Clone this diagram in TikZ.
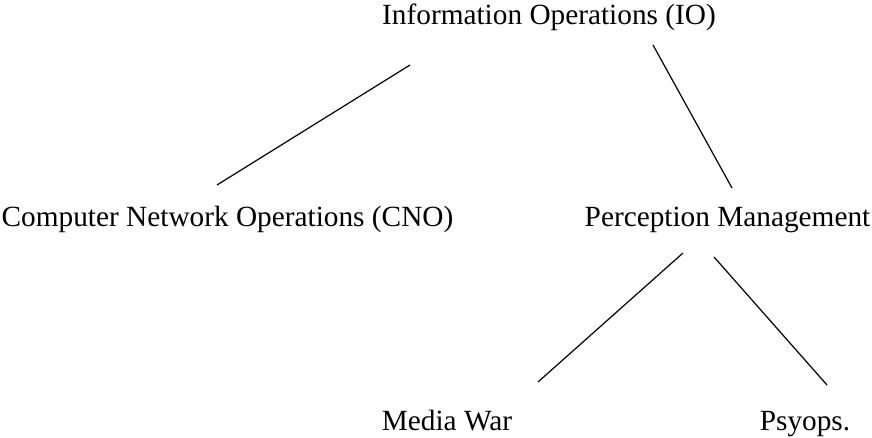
\documentclass[tikz,border=0pt]{standalone}
\usepackage{fontspec}
\setmainfont{Liberation Serif}
\usepackage{tikz}
\usetikzlibrary{positioning}

\begin{document}
\begin{tikzpicture}[x=1pt, y=-1pt, every node/.style={inner sep=0pt, anchor=base, font=\fontsize{29.3}{35}\selectfont}, branch/.style={line width=1.2pt, black}]
        \useasboundingbox (0,0) rectangle (872,438);
        \node (io) at (549,25) {Information Operations (IO)};
        \node (cno) at (227.5,227) {Computer Network Operations (CNO)};
        \node (pm) at (727.5,227) {Perception Management};
        \node (media) at (447,430) {Media War};
        \node (psyops) at (805,430) {Psyops.};
        % line ends
        \coordinate (io-l) at (410,65);
        \coordinate (io-r) at (653,45);
        \coordinate (cno-t) at (217,185);
        \coordinate (pm-t) at (732,188);
        \coordinate (pm-l) at (683,253);
        \coordinate (pm-r) at (714,257);
        \coordinate (media-t) at (538,382);
        \coordinate (psyops-t) at (827,385);
        \draw[branch] (io-l) -- (cno-t);
        \draw[branch] (io-r) -- (pm-t);
        \draw[branch] (pm-l) -- (media-t);
        \draw[branch] (pm-r) -- (psyops-t);
    \end{tikzpicture}
\end{document}
